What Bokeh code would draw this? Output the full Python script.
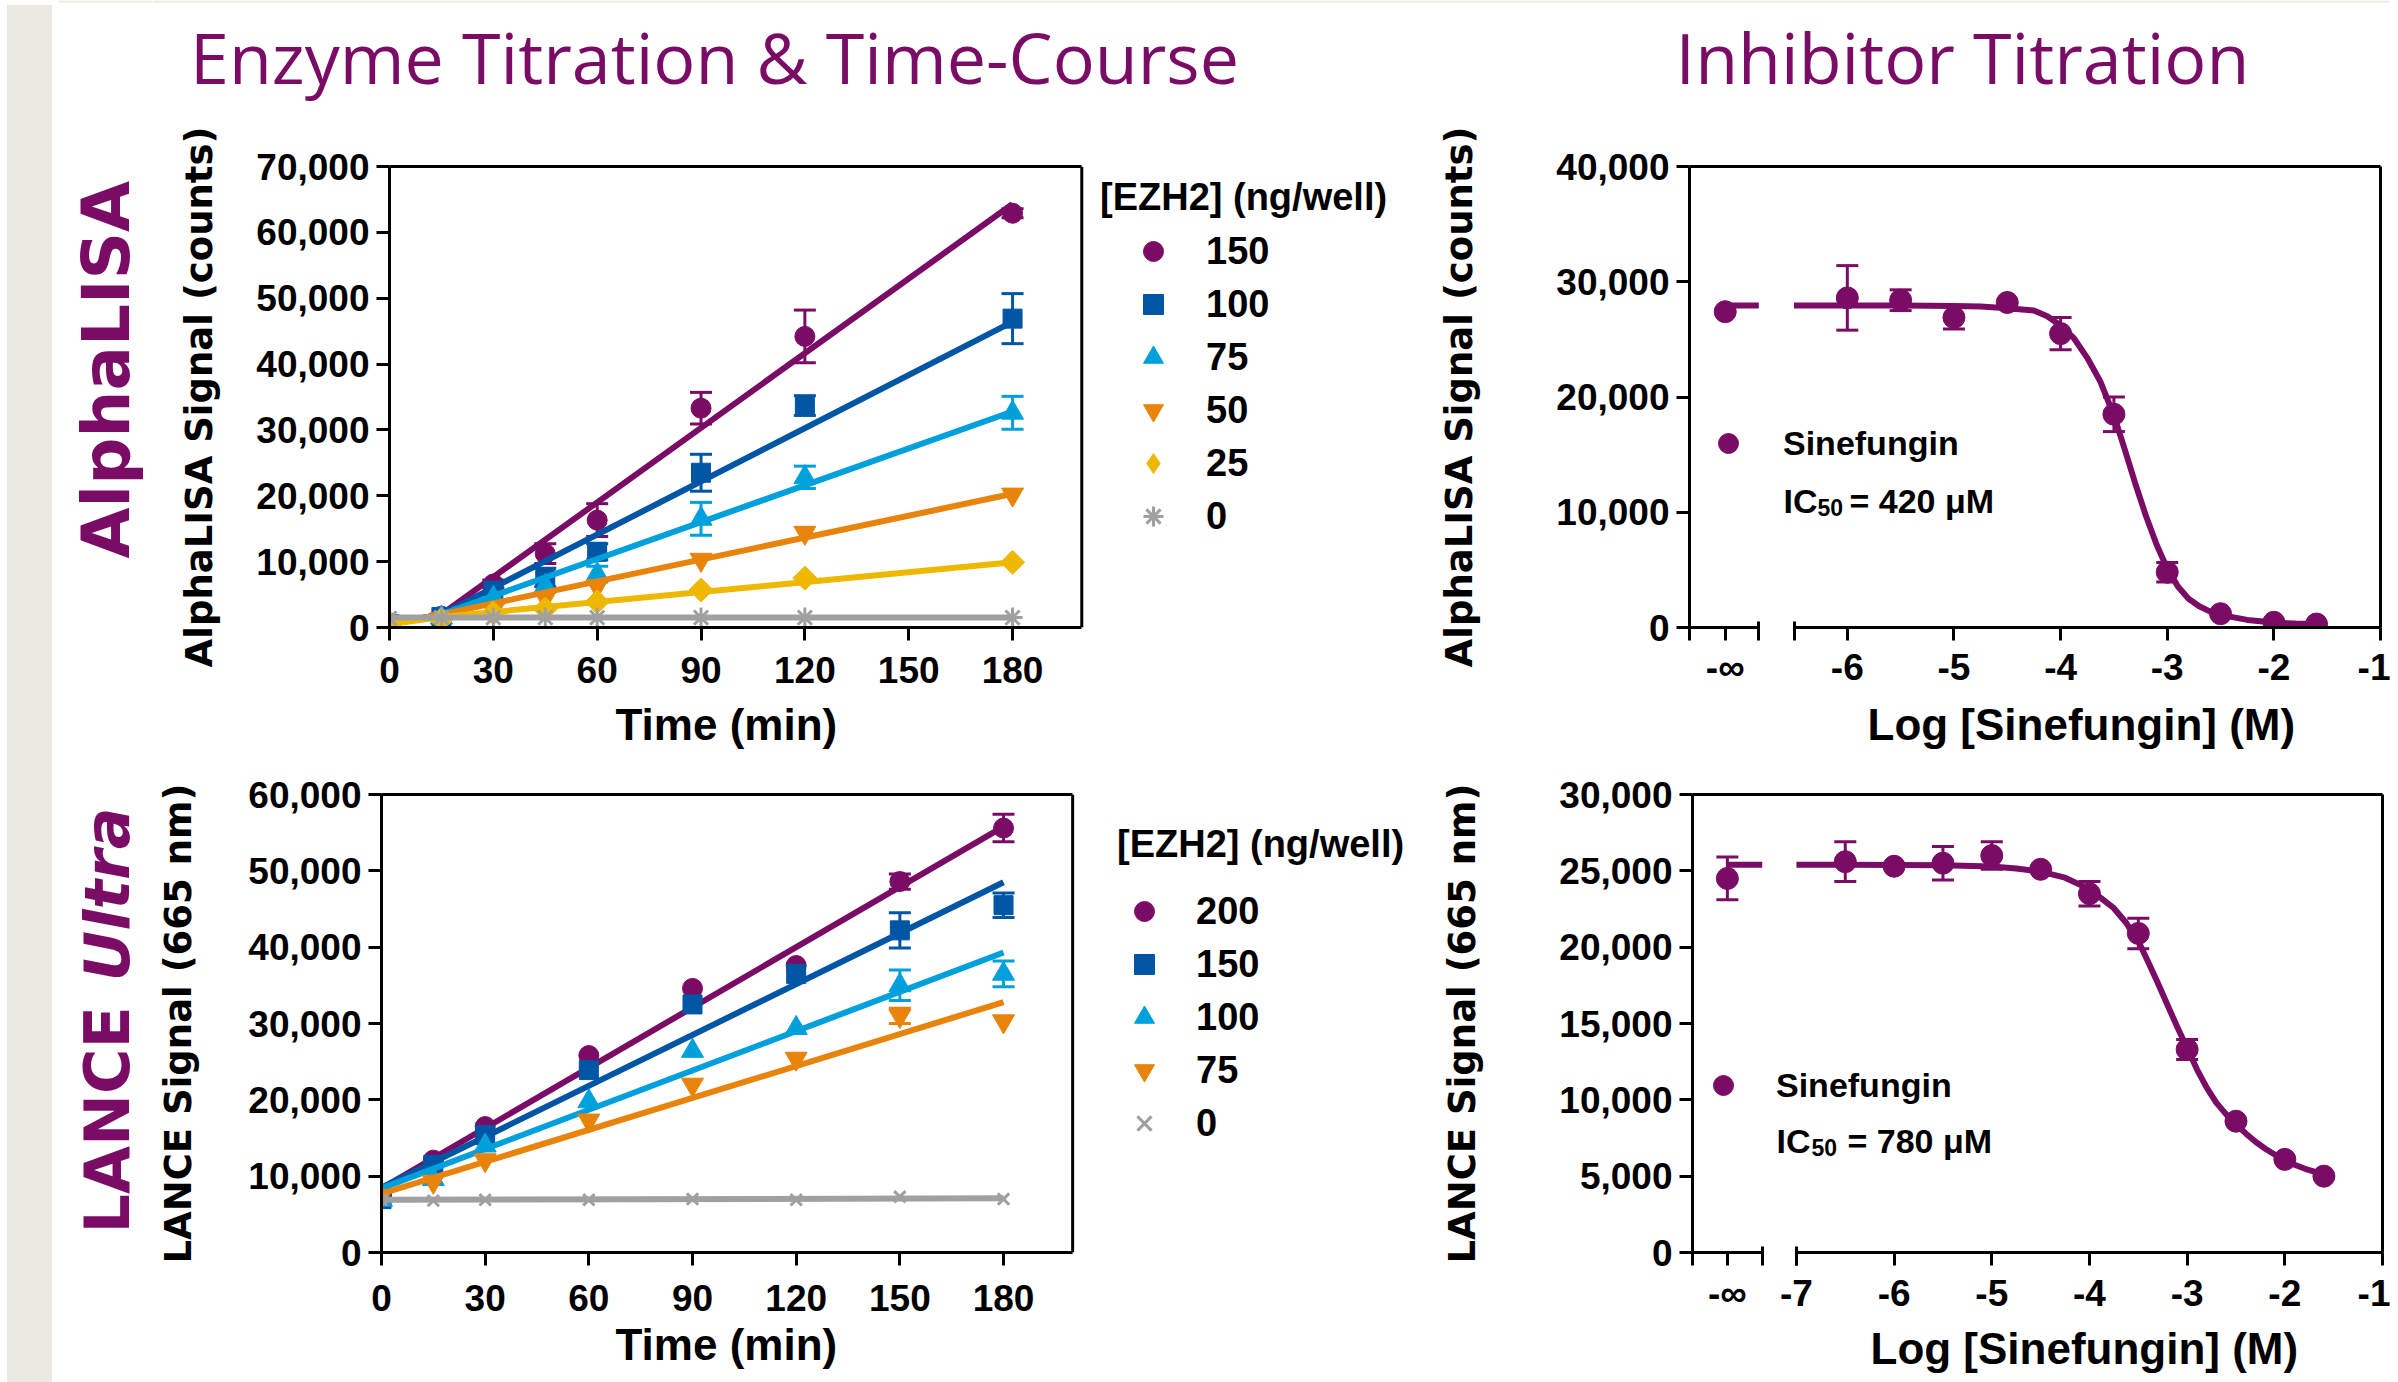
import math
from bokeh.plotting import figure
from bokeh.models import (ColumnDataSource, Range1d, FixedTicker, NumeralTickFormatter,
                          CustomJSTickFormatter, LinearAxis, Label, Legend, LegendItem,
                          Whisker, TeeHead, Div, Title, Span)
from bokeh.layouts import row, column
from bokeh.embed import file_html
from bokeh.resources import INLINE

# ---------------- colours / fonts ----------------
PURPLE = "#7B0C66"
BLUE = "#0056A4"
LBLUE = "#00A0DC"
ORANGE = "#E8830C"
YELLOW = "#EFB800"
GRAY = "#A0A0A0"
BEIGE = "#ECE9E2"
SANS = "Liberation Sans"
WIDE = "DejaVu Sans"
TITLE_FONT = "Open Sans"

# ---------------- data: AlphaLISA enzyme titration ----------------
time_alpha = [0, 15, 30, 45, 60, 90, 120, 180]
alpha_150 = [700, 1700, 6600, 11200, 16300, 33300, 44200, 62900]
alpha_150_err = [0, 0, 600, 1500, 2500, 2400, 4000, 700]
alpha_100 = [500, 1600, 5600, 7600, 11500, 23500, 33700, 46900]
alpha_100_err = [0, 0, 0, 1400, 1200, 2800, 1500, 3800]
alpha_75 = [400, 1500, 4500, 6300, 8100, 16500, 22800, 32600]
alpha_75_err = [0, 0, 0, 0, 1200, 2500, 1700, 2500]
alpha_50 = [500, 1300, 2700, 4500, 6300, 10300, 14400, 20200]
alpha_50_err = [0, 0, 0, 0, 0, 0, 0, 0]
alpha_25 = [600, 1200, 2200, 2800, 3900, 5700, 7500, 9900]
alpha_25_err = [0, 0, 0, 0, 0, 0, 0, 0]
alpha_0 = [1400, 1500, 1500, 1500, 1500, 1500, 1500, 1500]
alpha_0_err = [0, 0, 0, 0, 0, 0, 0, 0]
alpha_fit_t = [0, 15, 180]
alpha_fit_150 = [500, 2000, 64300]
alpha_fit_100 = [500, 2000, 46400]
alpha_fit_75 = [500, 2000, 32800]
alpha_fit_50 = [500, 2000, 20300]
alpha_fit_25 = [500, 1600, 9900]
alpha_fit_0 = [1500, 1500, 1500]
alpha_labels = ["150", "100", "75", "50", "25", "0"]

# ---------------- data: LANCE Ultra enzyme titration ----------------
time_lance = [0, 15, 30, 60, 90, 120, 150, 180]
lance_200 = [7500, 12100, 16500, 25800, 34600, 37600, 48600, 55600]
lance_200_err = [0, 0, 0, 0, 0, 0, 1000, 1800]
lance_150 = [7000, 11500, 15400, 23900, 32500, 36500, 42200, 45500]
lance_150_err = [0, 0, 0, 0, 0, 0, 2300, 1600]
lance_100 = [6900, 9600, 14000, 19800, 26400, 29400, 35000, 36500]
lance_100_err = [0, 0, 0, 0, 0, 0, 2000, 1700]
lance_75 = [7400, 9300, 12100, 17300, 22000, 25400, 31000, 30300]
lance_75_err = [0, 0, 0, 0, 0, 0, 1000, 0]
lance_0 = [6900, 6800, 6900, 6900, 7000, 6900, 7300, 7000]
lance_0_err = [0, 0, 0, 0, 0, 0, 0, 0]
lance_fit_t = [0, 180]
lance_fit_200 = [8400, 55800]
lance_fit_150 = [8500, 48500]
lance_fit_100 = [8400, 39300]
lance_fit_75 = [7700, 32800]
lance_fit_0 = [6900, 7100]
lance_labels = ["200", "150", "100", "75", "0"]

time_ticks = [0, 30, 60, 90, 120, 150, 180]
TIME_AXIS_END = 200

# ---------------- data: inhibitor titrations ----------------
inh_a_logc = [-6.0, -5.5, -5.0, -4.5, -4.0, -3.5, -3.0, -2.5, -2.0, -1.6]
inh_a_sig = [28600, 28400, 26900, 28200, 25500, 18500, 4800, 1200, 450, 300]
inh_a_err = [2800, 900, 1000, 0, 1400, 1500, 850, 0, 0, 0]
inh_a_ctrl = 27400          # no-inhibitor control (log = -inf)
inh_a_ctrl_err = 0
curve_a_x = [-6.5, -6.0, -5.5, -5.0, -4.75, -4.5, -4.25, -4.125, -4.0, -3.875, -3.75,
             -3.625, -3.5, -3.4, -3.3, -3.2, -3.1, -3.0, -2.9, -2.8, -2.7, -2.6, -2.5,
             -2.25, -2.0, -1.8, -1.6]
curve_a_y = [27950, 27950, 27940, 27900, 27850, 27700, 27500, 27000, 26200, 25100, 23400,
             21300, 18400, 15500, 12500, 9700, 7200, 5100, 3550, 2500, 1850, 1400, 1100,
             660, 430, 340, 290]
inh_l_logc = [-6.5, -6.0, -5.5, -5.0, -4.5, -4.0, -3.5, -3.0, -2.5, -2.0, -1.6]
inh_l_sig = [25600, 25300, 25500, 26000, 25100, 23500, 20900, 13300, 8600, 6100, 5000]
inh_l_err = [1300, 0, 1100, 900, 0, 800, 1000, 650, 0, 0, 0]
inh_l_ctrl = 24500
inh_l_ctrl_err = 1400
curve_l_x = [-7.0, -6.5, -6.0, -5.5, -5.0, -4.75, -4.5, -4.25, -4.0, -3.75, -3.625,
             -3.5, -3.4, -3.3, -3.2, -3.1, -3.0, -2.9, -2.8, -2.7, -2.6, -2.5, -2.4,
             -2.3, -2.2, -2.1, -2.0, -1.9, -1.8, -1.7, -1.6]
curve_l_y = [25400, 25400, 25390, 25360, 25280, 25150, 24950, 24550, 23800, 22550, 21600,
             20400, 19050, 17650, 16200, 14750, 13400, 12000, 10800, 9800, 9050, 8400, 7800,
             7250, 6800, 6400, 6050, 5750, 5500, 5300, 5100]

alpha_inh_ticks = [0, 10000, 20000, 30000, 40000]
lance_inh_ticks = [0, 5000, 10000, 15000, 20000, 25000, 30000]

# broken-axis layout (log units): segment 1 holds "-inf", segment 2 the real axis
A_X_START, A_BREAK_END, A_SEG2_START, A_NEGINF = -7.48, -6.83, -6.5, -7.145
L_X_START, L_BREAK_END, L_SEG2_START, L_NEGINF = -8.064, -7.35, -7.0, -7.707


# ---------------- helpers ----------------
def base_fig(width, height, xr, yr, bl, br, bt, bb):
    p = figure(width=width, height=height, x_range=xr, y_range=yr,
               output_backend="svg", toolbar_location=None,
               min_border_left=bl, min_border_right=br,
               min_border_top=bt, min_border_bottom=bb)
    p.grid.visible = False
    p.background_fill_color = "white"
    p.border_fill_color = "white"
    p.outline_line_color = None
    return p


def canvas_fig(width, height):
    p = figure(width=width, height=height, x_range=Range1d(0, width), y_range=Range1d(0, height),
               output_backend="svg", toolbar_location=None,
               x_axis_location=None, y_axis_location=None,
               min_border_left=0, min_border_right=0, min_border_top=0, min_border_bottom=0)
    p.grid.visible = False
    p.outline_line_color = None
    p.title.visible = False
    # thin beige rule along the top edge of the page
    p.add_layout(Span(location=height - 1, dimension="width", line_color=BEIGE, line_width=2))
    return p


def style_axis(ax, standoff=7):
    ax.axis_line_width = 3
    ax.axis_line_color = "black"
    ax.major_tick_line_width = 3
    ax.major_tick_line_color = "black"
    ax.major_tick_out = 13
    ax.major_tick_in = 0
    ax.minor_tick_line_color = None
    ax.major_label_text_font = SANS
    ax.major_label_text_font_style = "bold"
    ax.major_label_text_font_size = "37px"
    ax.major_label_text_color = "black"
    ax.major_label_standoff = standoff


def y_title(ax, text, standoff):
    ax.axis_label = text
    ax.axis_label_text_font = WIDE
    ax.axis_label_text_font_size = "37px"
    ax.axis_label_text_font_style = "bold"
    ax.axis_label_text_color = "black"
    ax.axis_label_standoff = standoff


def x_title(p, text, offset, standoff):
    p.add_layout(Title(text=text, align="left", offset=offset, standoff=standoff,
                       text_font=SANS, text_font_size="44px", text_font_style="bold",
                       text_color="black"), "below")


def add_label(p, x, y, text, size, font=SANS, style="bold", color="black",
              align="left", baseline="alphabetic", angle=0.0, xu="screen", yu="screen"):
    p.add_layout(Label(x=x, y=y, x_units=xu, y_units=yu, text=text, text_font=font,
                       text_font_style=style, text_font_size=size, text_color=color,
                       text_align=align, text_baseline=baseline, angle=angle))


def error_bars(p, x, y, err, color, head=22):
    xs = [a for a, e in zip(x, err) if e > 0]
    if not xs:
        return
    ys = [b for b, e in zip(y, err) if e > 0]
    es = [e for e in err if e > 0]
    src = ColumnDataSource(dict(base=xs, upper=[b + e for b, e in zip(ys, es)],
                                lower=[b - e for b, e in zip(ys, es)]))
    p.add_layout(Whisker(source=src, base="base", upper="upper", lower="lower",
                         line_color=color, line_width=3,
                         upper_head=TeeHead(size=head, line_color=color, line_width=3),
                         lower_head=TeeHead(size=head, line_color=color, line_width=3)))


def series(p, x, y, err, fx, fy, color, marker, size):
    error_bars(p, x, y, err, color)
    if marker in ("asterisk", "x"):
        r = p.scatter(x, y, marker=marker, size=size, line_color=color, line_width=3,
                      fill_color=None)
    elif marker == "diamond":
        # legend glyph: a plain diamond, covered in the plot by a square turned 45 degrees
        r = p.scatter(x, y, marker="diamond", size=16, fill_color=color, line_color=color)
        p.scatter(x, y, marker="square", size=size, angle=math.pi / 4,
                  fill_color=color, line_color=color)
    else:
        r = p.scatter(x, y, marker=marker, size=size, fill_color=color, line_color=color)
    p.line(fx, fy, line_color=color, line_width=6)
    return r


def style_legend(leg, size="38px"):
    leg.label_text_font = SANS
    leg.label_text_font_style = "bold"
    leg.label_text_font_size = size
    leg.label_text_color = "black"
    leg.title_text_font = SANS
    leg.title_text_font_style = "bold"
    leg.title_text_font_size = size
    leg.title_text_color = "black"
    leg.padding = 0
    leg.margin = 0
    leg.border_line_color = None
    leg.background_fill_alpha = 0


def time_frame(p, axis_end):
    """axes + box limited to 0..axis_end while the frame extends further (room for the legend)"""
    p.xaxis[0].bounds = (0, axis_end)
    top = LinearAxis(ticker=FixedTicker(ticks=[]), major_label_text_font_size="0px",
                     major_tick_out=0, major_tick_in=0, major_label_standoff=0,
                     axis_line_width=3, axis_line_color="black", bounds=(0, axis_end))
    p.add_layout(top, "above")
    p.add_layout(Span(location=axis_end, dimension="height", line_color="black", line_width=3))


def broken_x_axis(p, neg_inf, x_start, break_end, seg2_start, ticks, cut, dash, standoff):
    ax = p.xaxis[0]
    style_axis(ax, standoff)
    ax.ticker = FixedTicker(ticks=[neg_inf] + ticks, minor_ticks=[x_start, break_end, seg2_start])
    ax.formatter = CustomJSTickFormatter(
        args=dict(cut=cut),
        code="return tick < cut ? '-\u221e' : '-' + Math.abs(Math.round(tick));")
    ax.axis_line_dash = dash
    ax.minor_tick_line_color = "black"
    ax.minor_tick_line_width = 3
    ax.minor_tick_in = 6
    ax.minor_tick_out = 13


def frame_box(p):
    for side in ("above", "right"):
        ax = LinearAxis(ticker=FixedTicker(ticks=[]), major_label_text_font_size="0px",
                        major_tick_out=0, major_tick_in=0, major_label_standoff=0,
                        axis_line_width=3, axis_line_color="black")
        p.add_layout(ax, side)


# ================= top-left: AlphaLISA enzyme titration =================
tl = base_fig(1260, 646, Range1d(0, 294.1), Range1d(0, 70000), 237, 5, 48, 137)
style_axis(tl.xaxis[0], 16)
style_axis(tl.yaxis[0])
tl.xaxis[0].ticker = FixedTicker(ticks=time_ticks)
tl.yaxis[0].ticker = FixedTicker(ticks=[0, 10000, 20000, 30000, 40000, 50000, 60000, 70000])
tl.yaxis[0].formatter = NumeralTickFormatter(format="0,0")
y_title(tl.yaxis[0], "AlphaLISA Signal (counts)", 32)
time_frame(tl, TIME_AXIS_END)
x_title(tl, "Time (min)", 226, 25)

specs_a = [
    (alpha_150, alpha_150_err, alpha_fit_150, PURPLE, "circle", 20),
    (alpha_100, alpha_100_err, alpha_fit_100, BLUE, "square", 19),
    (alpha_75, alpha_75_err, alpha_fit_75, LBLUE, "triangle", 22),
    (alpha_50, alpha_50_err, alpha_fit_50, ORANGE, "inverted_triangle", 22),
    (alpha_25, alpha_25_err, alpha_fit_25, YELLOW, "diamond", 17),
    (alpha_0, alpha_0_err, alpha_fit_0, GRAY, "asterisk", 20),
]
rends = []
for vals, errs, fit, col, mk, sz in specs_a:
    rends.append(series(tl, time_alpha, vals, errs, alpha_fit_t, fit, col, mk, sz))
leg = Legend(items=[LegendItem(label=l, renderers=[r]) for l, r in zip(alpha_labels, rends)],
             location=(711, 86), title="[EZH2] (ng/well)")
style_legend(leg)
leg.glyph_width = 106
leg.glyph_height = 50
leg.spacing = 3
leg.label_standoff = 0
leg.title_standoff = 7
tl.add_layout(leg)

# ================= top-right: AlphaLISA inhibitor titration =================
tr = base_fig(978, 646, Range1d(A_X_START, -1), Range1d(0, 40000), 277, 10, 48, 137)
broken_x_axis(tr, A_NEGINF, A_X_START, A_BREAK_END, A_SEG2_START, [-6, -5, -4, -3, -2, -1],
              -6.7, "70 35 2000", 6)
ya = tr.yaxis[0]
style_axis(ya)
ya.ticker = FixedTicker(ticks=alpha_inh_ticks)
ya.formatter = NumeralTickFormatter(format="0,0")
y_title(ya, "AlphaLISA Signal (counts)", 72)
frame_box(tr)
x_title(tr, "Log [Sinefungin] (M)", 178, 14)

error_bars(tr, [A_NEGINF] + inh_a_logc, [inh_a_ctrl] + inh_a_sig,
           [inh_a_ctrl_err] + inh_a_err, PURPLE)
tr.line(curve_a_x, curve_a_y, line_color=PURPLE, line_width=6)
tr.line([A_NEGINF, A_BREAK_END], [curve_a_y[0], curve_a_y[0]], line_color=PURPLE, line_width=6)
pa = tr.scatter([A_NEGINF] + inh_a_logc, [inh_a_ctrl] + inh_a_sig, marker="circle", size=22,
                fill_color=PURPLE, line_color=PURPLE)
lg = Legend(items=[LegendItem(label="Sinefungin", renderers=[pa])], location=(14, 159))
style_legend(lg, "34px")
lg.glyph_width = 50
lg.glyph_height = 50
lg.label_standoff = 30
tr.add_layout(lg)
add_label(tr, 94, 127, "IC", "34px")
add_label(tr, 128, 120, "50", "23px")
add_label(tr, 160, 127, "= 420 \u03bcM", "34px")

# ================= bottom-left: LANCE Ultra enzyme titration =================
bl = base_fig(1260, 614, Range1d(0, 296.9), Range1d(0, 60000), 229, 5, 30, 123)
style_axis(bl.xaxis[0], 19)
style_axis(bl.yaxis[0])
bl.xaxis[0].ticker = FixedTicker(ticks=time_ticks)
bl.yaxis[0].ticker = FixedTicker(ticks=[0, 10000, 20000, 30000, 40000, 50000, 60000])
bl.yaxis[0].formatter = NumeralTickFormatter(format="0,0")
y_title(bl.yaxis[0], "LANCE Signal (665 nm)", 45)
time_frame(bl, TIME_AXIS_END)
x_title(bl, "Time (min)", 234, 8)

specs_l = [
    (lance_200, lance_200_err, lance_fit_200, PURPLE, "circle", 20),
    (lance_150, lance_150_err, lance_fit_150, BLUE, "square", 19),
    (lance_100, lance_100_err, lance_fit_100, LBLUE, "triangle", 22),
    (lance_75, lance_75_err, lance_fit_75, ORANGE, "inverted_triangle", 22),
    (lance_0, lance_0_err, lance_fit_0, GRAY, "x", 16),
]
rends = []
for vals, errs, fit, col, mk, sz in specs_l:
    rends.append(series(bl, time_lance, vals, errs, lance_fit_t, fit, col, mk, sz))
leg2 = Legend(items=[LegendItem(label=l, renderers=[r]) for l, r in zip(lance_labels, rends)],
              location=(736, 104), title="[EZH2] (ng/well)")
style_legend(leg2)
leg2.glyph_width = 54
leg2.glyph_height = 50
leg2.spacing = 3
leg2.label_standoff = 25
leg2.title_standoff = 20
bl.add_layout(leg2)

# ================= bottom-right: LANCE Ultra inhibitor titration =================
br = base_fig(978, 614, Range1d(L_X_START, -1), Range1d(0, 30000), 280, 8, 30, 123)
broken_x_axis(br, L_NEGINF, L_X_START, L_BREAK_END, L_SEG2_START,
              [-7, -6, -5, -4, -3, -2, -1], -7.3, "70 34 2000", 7)
ya = br.yaxis[0]
style_axis(ya)
ya.ticker = FixedTicker(ticks=lance_inh_ticks)
ya.formatter = NumeralTickFormatter(format="0,0")
y_title(ya, "LANCE Signal (665 nm)", 72)
frame_box(br)
x_title(br, "Log [Sinefungin] (M)", 178, 11)

error_bars(br, [L_NEGINF] + inh_l_logc, [inh_l_ctrl] + inh_l_sig,
           [inh_l_ctrl_err] + inh_l_err, PURPLE)
br.line(curve_l_x, curve_l_y, line_color=PURPLE, line_width=6)
br.line([L_NEGINF, L_BREAK_END], [curve_l_y[0], curve_l_y[0]], line_color=PURPLE, line_width=6)
pl = br.scatter([L_NEGINF] + inh_l_logc, [inh_l_ctrl] + inh_l_sig, marker="circle", size=22,
                fill_color=PURPLE, line_color=PURPLE)
lg2 = Legend(items=[LegendItem(label="Sinefungin", renderers=[pl])], location=(6, 142))
style_legend(lg2, "34px")
lg2.glyph_width = 50
lg2.glyph_height = 50
lg2.label_standoff = 28
br.add_layout(lg2)
add_label(br, 84, 112, "IC", "34px")
add_label(br, 119, 105, "50", "23px")
add_label(br, 155, 112, "= 780 \u03bcM", "34px")

# ================= section titles and row labels =================
titles = canvas_fig(2238, 118)
add_label(titles, 562, 62, "Enzyme Titration & Time-Course", "70px", font=TITLE_FONT,
          style="normal", color=PURPLE, align="center")
add_label(titles, 1810, 62, "Inhibitor Titration", "70px", font=TITLE_FONT,
          style="normal", color=PURPLE, align="center")

rowlab = canvas_fig(95, 1378)
add_label(rowlab, 49, 820, "AlphaLISA", "66px", font=WIDE, color=PURPLE, angle=math.pi / 2)
add_label(rowlab, 50, 145, "LANCE", "62px", font=WIDE, color=PURPLE, angle=math.pi / 2)
add_label(rowlab, 50, 571, "Ultra", "62px", font=WIDE, style="bold italic", color=PURPLE,
          align="right", angle=math.pi / 2)

# ================= page layout =================
strip = Div(text="", width=47, height=1378,
            styles={"background": "linear-gradient(to right, #ffffff 0px, #ffffff 2px, %s 2px)" % BEIGE})
page = row(strip, rowlab, column(titles, row(tl, tr), row(bl, br)))

open("out.html", "w").write(file_html(page, INLINE))
